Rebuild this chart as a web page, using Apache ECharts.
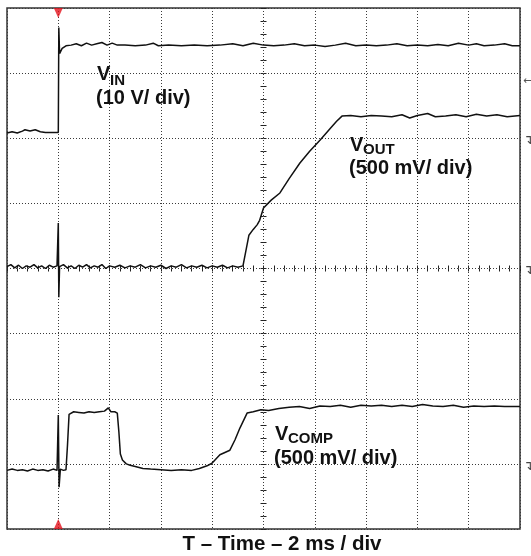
<!DOCTYPE html>
<html><head><meta charset="utf-8">
<script src="https://cdn.jsdelivr.net/npm/echarts@6/dist/echarts.min.js"></script>
<style>html,body{margin:0;padding:0;background:#fff}#c{width:531px;height:556px}</style>
</head><body><div id="c"></div>
<script>
// Time axis: ms (2 ms / div), trigger at 0. Vertical axis: screen divisions (0..8).
const timeMin = -2, timeMax = 18, timeStep = 2;
const divMin = 0, divMax = 8;
const triggerTime = 0;
const groundLevels = [6, 4, 1];
const triggerLevel = 6.87;

const vinData = [[-2,6.08],[-1.8,6.1],[-1.6,6.08],[-1.4,6.11],[-1.3,6.13],[-1.1,6.11],[-0.9,6.13],[-0.7,6.1],[-0.5,6.09],[-0.2,6.09],[0,6.09],
[0.02,7.7],[0.05,7.3],[0.1,7.28],[0.15,7.38],[0.3,7.42],[0.5,7.43],[0.7,7.45],[0.9,7.42],[1.1,7.46],[1.3,7.43],[1.5,7.45],[1.7,7.47],[1.9,7.43],[2.1,7.46],[2.3,7.43],[2.6,7.43],[3.0,7.42],[3.4,7.43],[3.7,7.46],[3.9,7.42],[4.3,7.43],[4.8,7.42],[5.3,7.43],[5.8,7.42],[6.3,7.43],[6.8,7.45],[7.2,7.42],[7.6,7.46],[8.0,7.43],[8.4,7.42],[8.8,7.43],[9.2,7.45],[9.6,7.42],[10.0,7.43],[10.4,7.41],[10.8,7.43],[11.2,7.46],[11.6,7.42],[12.0,7.43],[12.4,7.42],[12.8,7.43],[13.2,7.45],[13.6,7.42],[14.0,7.43],[14.4,7.42],[14.8,7.44],[15.2,7.42],[15.6,7.46],[16.0,7.43],[16.3,7.45],[16.6,7.42],[17.0,7.43],[17.4,7.45],[17.7,7.42],[18,7.42]];

const voutData = [[-2,4.03],[-1.85,4.06],[-1.7,4.01],[-1.55,4.05],[-1.4,4.0],[-1.25,4.04],[-1.1,4.02],[-0.95,4.06],[-0.8,4.01],[-0.65,4.04],[-0.5,4.0],[-0.35,4.05],[-0.2,4.02],[-0.05,4.04],[0,4.7],[0.02,3.56],[0.05,4.03],[0.2,4.06],[0.35,4.01],[0.5,4.04],[0.65,4.0],[0.8,4.05],[0.95,4.02],[1.1,4.06],[1.25,4.01],[1.4,4.04],[1.55,4.02],[1.7,4.06],[1.85,4.0],[2.0,4.04],[2.2,4.02],[2.4,4.05],[2.6,4.01],[2.8,4.04],[3.0,4.02],[3.2,4.06],[3.4,4.01],[3.6,4.04],[3.8,4.02],[4.0,4.05],[4.2,4.0],[4.4,4.04],[4.6,4.02],[4.8,4.06],[5.0,4.01],[5.2,4.04],[5.4,4.02],[5.6,4.05],[5.8,4.01],[6.0,4.04],[6.2,4.02],[6.4,4.05],[6.6,4.01],[6.8,4.04],[7.0,4.02],[7.2,4.04],
[7.43,4.51],[7.6,4.6],[7.75,4.67],[7.85,4.74],[8.0,4.93],[8.3,5.05],[8.64,5.16],[9.0,5.38],[9.42,5.62],[9.8,5.8],[10.2,5.97],[10.6,6.15],[10.85,6.26],[11.06,6.34],
[11.4,6.35],[11.8,6.33],[12.2,6.35],[12.6,6.34],[13.0,6.33],[13.4,6.36],[13.7,6.31],[14.0,6.35],[14.4,6.38],[14.7,6.33],[15.1,6.34],[15.5,6.36],[15.9,6.33],[16.3,6.37],[16.7,6.34],[17.1,6.36],[17.5,6.33],[18,6.35]];

const vcompData = [[-2,0.9],[-1.8,0.92],[-1.6,0.9],[-1.4,0.91],[-1.2,0.89],[-1.0,0.92],[-0.8,0.9],[-0.6,0.91],[-0.4,0.89],[-0.2,0.92],[-0.05,0.9],[0,1.75],[0.03,0.64],[0.08,0.92],[0.2,0.9],[0.3,0.91],[0.36,1.3],[0.42,1.76],[0.6,1.8],[0.8,1.79],[1.0,1.78],[1.2,1.8],[1.4,1.79],[1.6,1.8],[1.8,1.81],[1.95,1.86],[2.05,1.8],[2.2,1.8],[2.3,1.78],[2.36,1.5],[2.42,1.15],[2.5,1.06],[2.65,1.0],[2.8,0.98],[3.0,0.96],[3.3,0.93],[3.6,0.92],[4.0,0.91],[4.4,0.9],[4.8,0.91],[5.2,0.9],[5.5,0.93],[5.8,0.97],[5.99,1.01],[6.3,1.14],[6.69,1.21],[6.89,1.37],[7.08,1.55],[7.36,1.78],[7.6,1.8],[7.9,1.83],[8.2,1.82],[8.6,1.85],[9.0,1.87],[9.4,1.88],[9.8,1.85],[10.2,1.89],[10.6,1.88],[11.0,1.9],[11.4,1.87],[11.8,1.9],[12.2,1.89],[12.6,1.9],[13.0,1.88],[13.4,1.9],[13.8,1.88],[14.2,1.91],[14.6,1.89],[15.0,1.88],[15.4,1.9],[15.8,1.87],[16.2,1.89],[16.6,1.88],[17.0,1.89],[17.4,1.88],[18,1.88]];

const FONT = '"Liberation Sans", Arial, Helvetica, sans-serif';
const chart = echarts.init(document.getElementById('c'), null, {renderer: 'canvas'});
const gridBox = {left: 7, top: 8, right: 11, bottom: 27};
const dotted = {color: '#3a3a3a', width: 1, type: [1, 2]};
const tickAxisCommon = {
  type: 'value', gridIndex: 1, interval: 0.2,
  axisLabel: {show: false}, splitLine: {show: false},
  axisLine: {show: false, onZero: true},
  axisTick: {show: true, length: 3, lineStyle: {color: '#222', width: 1}}
};
const trace = {color: '#111', width: 1.5};

chart.setOption({
  animation: false,
  backgroundColor: '#fff',
  grid: [
    Object.assign({show: true, borderColor: '#333', borderWidth: 1.5, backgroundColor: '#fff'}, gridBox),
    Object.assign({show: false}, gridBox)
  ],
  xAxis: [
    {type: 'value', gridIndex: 0, min: timeMin, max: timeMax, interval: timeStep,
     axisLine: {show: false}, axisTick: {show: false}, axisLabel: {show: false},
     splitLine: {show: true, lineStyle: dotted}},
    Object.assign({}, tickAxisCommon, {min: -5, max: 5, position: 'bottom', axisLine: {show: false, onZero: true, onZeroAxisIndex: 1}, axisTick: Object.assign({}, tickAxisCommon.axisTick, {inside: false})}),
    Object.assign({}, tickAxisCommon, {min: -5, max: 5, position: 'bottom', axisLine: {show: false, onZero: true, onZeroAxisIndex: 1}, axisTick: Object.assign({}, tickAxisCommon.axisTick, {inside: true})})
  ],
  yAxis: [
    {type: 'value', gridIndex: 0, min: divMin, max: divMax, interval: 1,
     axisLine: {show: false}, axisTick: {show: false}, axisLabel: {show: false},
     splitLine: {show: true, lineStyle: dotted}},
    Object.assign({}, tickAxisCommon, {min: -4, max: 4, position: 'left', axisLine: {show: false, onZero: true, onZeroAxisIndex: 1}, axisTick: Object.assign({}, tickAxisCommon.axisTick, {inside: false})}),
    Object.assign({}, tickAxisCommon, {min: -4, max: 4, position: 'left', axisLine: {show: false, onZero: true, onZeroAxisIndex: 1}, axisTick: Object.assign({}, tickAxisCommon.axisTick, {inside: true})})
  ],
  series: [
    {name: 'VIN', type: 'line', xAxisIndex: 0, yAxisIndex: 0, data: vinData, showSymbol: false, lineStyle: trace, itemStyle: {color: '#111'}},
    {name: 'VOUT', type: 'line', xAxisIndex: 0, yAxisIndex: 0, data: voutData, showSymbol: false, lineStyle: trace, itemStyle: {color: '#111'}},
    {name: 'VCOMP', type: 'line', xAxisIndex: 0, yAxisIndex: 0, data: vcompData, showSymbol: false, lineStyle: trace, itemStyle: {color: '#111'}},
    {type: 'scatter', xAxisIndex: 0, yAxisIndex: 0, clip: false, silent: true,
     data: [[triggerTime, divMax]], symbol: 'path://M0,0 L10,0 L5,11 Z', symbolSize: [9, 10], symbolOffset: [0, 5],
     itemStyle: {color: '#e3121c'}},
    {type: 'scatter', xAxisIndex: 0, yAxisIndex: 0, clip: false, silent: true,
     data: [[triggerTime, divMin]], symbol: 'path://M5,0 L10,11 L0,11 Z', symbolSize: [9, 10], symbolOffset: [0, -5],
     itemStyle: {color: '#e3121c'}}
  ]
});

const rx = chart.convertToPixel({xAxisIndex: 0}, timeMax);
const graphics = [];
function txt(x, y, s, size) {
  graphics.push({type: 'text', x: x, y: y, silent: true,
    style: {text: s, fill: '#111', font: 'bold ' + size + 'px ' + FONT, textVerticalAlign: 'top'}});
}
txt(97, 64, 'V', 20); txt(110, 73, 'IN', 15);
txt(96, 88, '(10 V/ div)', 20);
txt(350, 135, 'V', 20); txt(363, 142, 'OUT', 15);
txt(349, 158, '(500 mV/ div)', 20);
txt(275, 424, 'V', 20); txt(288, 431, 'COMP', 15);
txt(274, 448, '(500 mV/ div)', 20);
graphics.push({type: 'text', x: 282, y: 534, silent: true,
  style: {text: 'T \u2013 Time \u2013 2 ms / div', fill: '#111', font: 'bold 20.5px ' + FONT, textAlign: 'center', textVerticalAlign: 'top'}});
graphics.push({type: 'text', x: rx + 3, y: chart.convertToPixel({yAxisIndex: 0}, triggerLevel), silent: true,
  style: {text: '\u2190', fill: '#555', font: '11px "DejaVu Sans"', textVerticalAlign: 'middle'}});
groundLevels.forEach(function (g) {
  graphics.push({type: 'text', x: rx + 3, y: chart.convertToPixel({yAxisIndex: 0}, g) - 4, silent: true,
    style: {text: '\u21B4', fill: '#444', font: '13px "DejaVu Sans"', textVerticalAlign: 'top'}});
});
chart.setOption({graphic: graphics});
</script>
</body></html>
